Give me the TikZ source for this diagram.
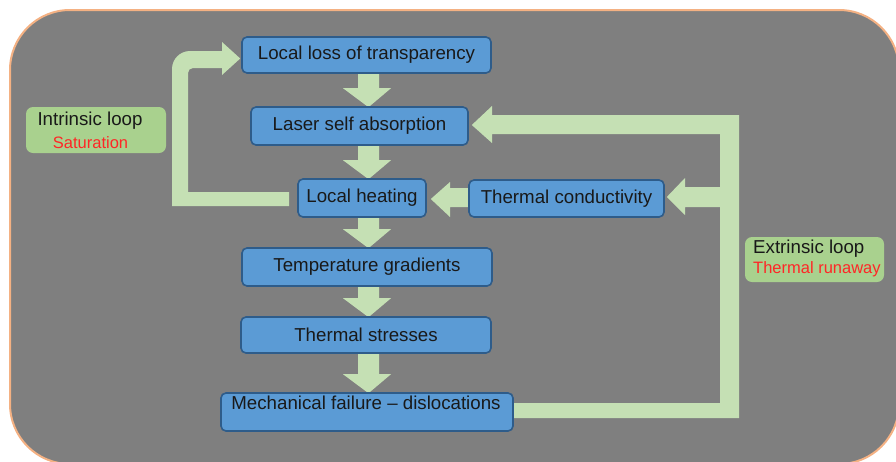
\documentclass[tikz,border=0pt]{standalone}
\usepackage{fontspec}
\setmainfont{Liberation Sans}
\usetikzlibrary{calc}
\definecolor{bgray}{HTML}{7F7F7F}
\definecolor{borange}{HTML}{F4B183}
\definecolor{boxblue}{HTML}{5B9BD5}
\definecolor{boxedge}{HTML}{2E5C8A}
\definecolor{arrgreen}{HTML}{C5E0B4}
\definecolor{labgreen}{HTML}{A9D18E}
\definecolor{redtxt}{HTML}{FF2626}
\pgfdeclarelayer{bg}
\pgfdeclarelayer{arrows}
\pgfsetlayers{bg,arrows,main}
\newcommand\gdown[2]{\fill[arr] let \p1=(#1.south), \p2=(#2.north) in
  (358pt,\y1) -- (379pt,\y1) -- (379pt,\y2+18pt) -- (391pt,\y2+18pt) -- (368.5pt,\y2-1pt)
  -- (343pt,\y2+18pt) -- (358pt,\y2+18pt) -- cycle;}
\begin{document}
\begin{tikzpicture}[x=1pt,y=-1pt,
  stepbox/.style={draw=boxedge, line width=1.6pt, fill=boxblue, rounded corners=5pt,
    inner sep=0pt, text=black!90, font=\fontsize{18.7}{22}\selectfont},
  arr/.style={fill=arrgreen},
  labbox/.style={fill=labgreen, rounded corners=7pt, inner sep=0pt},
  bigtxt/.style={inner sep=0pt, text=black!90, font=\fontsize{18.7}{22}\selectfont},
  redsmall/.style={inner sep=0pt, text=redtxt, font=\fontsize{16.5}{20}\selectfont}]
\useasboundingbox (0,0) rectangle (896,461);
\begin{pgfonlayer}{bg}
\path[fill=bgray, draw=borange, line width=2pt, rounded corners=60pt] (10,10) rectangle (899,464);
\end{pgfonlayer}

% process boxes
\node[stepbox, minimum width=249pt, minimum height=36pt] (b1) at (366.5,55) {Local loss of transparency};
\node[stepbox, minimum width=217pt, minimum height=38pt] (b2) at (359.5,126) {Laser self absorption};
\node[stepbox, minimum width=128pt, minimum height=38pt] (b3) at (362,198) {Local heating};
\node[stepbox, minimum width=195pt, minimum height=37pt] (b4) at (566.5,198.5) {Thermal conductivity};
\node[stepbox, minimum width=250pt, minimum height=38pt] (b5) at (367,267) {Temperature gradients};
\node[stepbox, minimum width=250pt, minimum height=36pt] (b6) at (366,335) {Thermal stresses};
\node[stepbox, minimum width=292pt, minimum height=38pt] (b7) at (367,412) {};
\node[bigtxt] (b7t) at (366,403) {Mechanical failure – dislocations};

% loop labels
\node[labbox, minimum width=140pt, minimum height=46pt] (intr) at (96,130) {};
\node[bigtxt] (intrt) at (90,120.5) {Intrinsic loop};
\node[redsmall] (intrs) at (90.5,143) {Saturation};
\node[labbox, minimum width=139pt, minimum height=45pt] (extr) at (814.5,259.5) {};
\node[bigtxt, anchor=west] (extrt) at (753,248.5) {Extrinsic loop};
\node[redsmall, anchor=west] (extrs) at (753,269.5) {Thermal runaway};

\begin{pgfonlayer}{arrows}
% straight chain arrows
\gdown{b1}{b2}
\gdown{b2}{b3}
\gdown{b3}{b5}
\gdown{b5}{b6}
\gdown{b6}{b7}
% thermal conductivity -> local heating
\fill[arr] (b4.west |- 0,188) -- (450,188) -- (450,182) -- ($(b3.east |- 0,199)+(4,0)$)
  -- (450,217) -- (450,207) -- (b4.west |- 0,207) -- cycle;
% intrinsic loop: local heating -> local loss of transparency
\fill[arr] ($(b3.west |- 0,192)+(-8,0)$) -- (188,192) -- (188,120) [rounded corners=5pt] -- (188,68) -- (205,68) [sharp corners]
  -- (222,68) -- (222,75) -- ($(b1.west |- 0,58.5)+(-1,0)$) -- (222,42) -- (222,51) -- (200,51)
  [rounded corners=18pt] -- (172,51) -- (172,120) [sharp corners] -- (172,206)
  -- ($(b3.west |- 0,206)+(-8,0)$) -- cycle;
% extrinsic loop: mechanical failure -> laser self absorption and thermal conductivity
\fill[arr] (b7.east |- 0,403) -- (720,403) -- (720,207) -- (685,207) -- (685,215)
  -- ($(b4.east |- 0,197)+(2,0)$) -- (685,178) -- (685,187) -- (720,187) -- (720,134)
  -- (492,134) -- (492,143) -- ($(b2.east |- 0,125)+(3,0)$) -- (492,106) -- (492,115)
  -- (739,115) -- (739,418) -- (b7.east |- 0,418) -- cycle;
\end{pgfonlayer}
\end{tikzpicture}
\end{document}
